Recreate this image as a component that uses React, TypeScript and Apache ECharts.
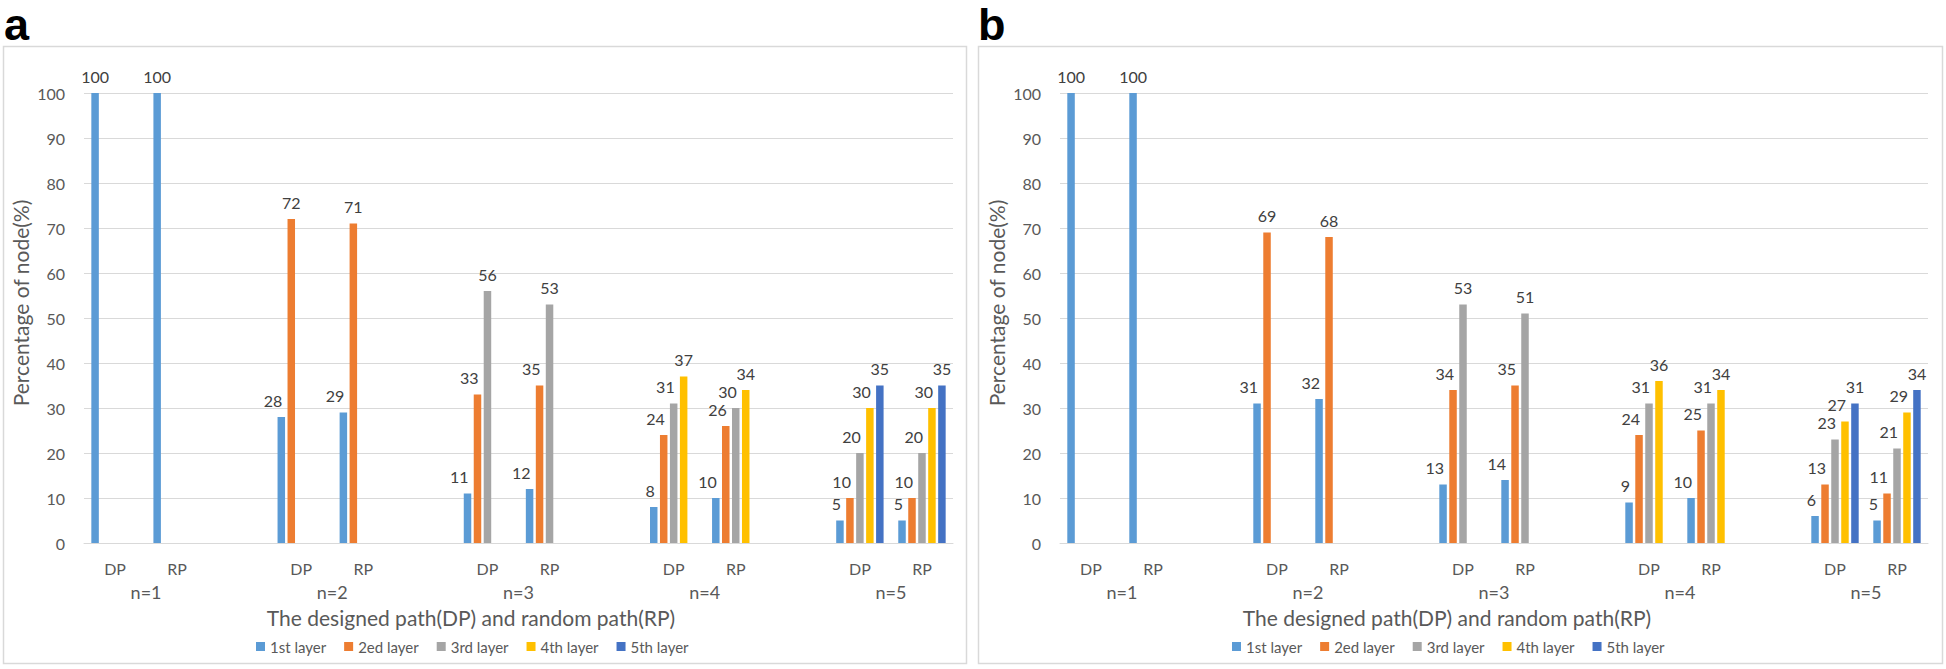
import React, { useEffect, useRef } from "react";
import * as echarts from "echarts";

const categories = ["DP", "RP", "", "DP", "RP", "", "DP", "RP", "", "DP", "RP", "", "DP", "RP"];
const groupLabels = ["n=1", "n=2", "n=3", "n=4", "n=5"];
const layerNames = ["1st layer", "2ed layer", "3rd layer", "4th layer", "5th layer"];
const layerColors = ["#5B9BD5", "#ED7D31", "#A5A5A5", "#FFC000", "#4472C4"];
const yTicks = { min: 0, max: 100, interval: 10 };

// Panel a
const aLayer1 = [100, 100, null, 28, 29, null, 11, 12, null, 8, 10, null, 5, 5];
const aLayer2 = [null, null, null, 72, 71, null, 33, 35, null, 24, 26, null, 10, 10];
const aLayer3 = [null, null, null, null, null, null, 56, 53, null, 31, 30, null, 20, 20];
const aLayer4 = [null, null, null, null, null, null, null, null, null, 37, 34, null, 30, 30];
const aLayer5 = [null, null, null, null, null, null, null, null, null, null, null, null, 35, 35];

// Panel b
const bLayer1 = [100, 100, null, 31, 32, null, 13, 14, null, 9, 10, null, 6, 5];
const bLayer2 = [null, null, null, 69, 68, null, 34, 35, null, 24, 25, null, 13, 11];
const bLayer3 = [null, null, null, null, null, null, 53, 51, null, 31, 31, null, 23, 21];
const bLayer4 = [null, null, null, null, null, null, null, null, null, 36, 34, null, 27, 29];
const bLayer5 = [null, null, null, null, null, null, null, null, null, null, null, null, 31, 34];

const xTitle = "The designed path(DP) and random path(RP)";
const yTitle = "Percentage of node(%)";

const FONT = "Lato";
const AXIS_TEXT = "#595959";
const LABEL_TEXT = "#404040";
const GRID_LINE = "#D9D9D9";

// second axis: half-category boundaries so that group labels sit between DP and RP
const nAxisData: string[] = [];
for (let i = 0; i <= categories.length * 2; i++) nAxisData.push("");
groupLabels.forEach((g, k) => {
  nAxisData[2 + 6 * k] = g;
});

function buildSeries(layers: (number | null)[][], gridIdx: number) {
  return layers.map((arr, si) => ({
    type: "bar",
    name: layerNames[si],
    xAxisIndex: gridIdx * 2,
    yAxisIndex: gridIdx,
    barWidth: 7.5,
    barGap: "33%",
    itemStyle: { color: layerColors[si] },
    label: {
      show: true,
      position: "top",
      distance: 17,
      verticalAlign: "middle",
      color: LABEL_TEXT,
      fontFamily: FONT,
      fontSize: 16,
    },
    data: arr.map((v, ci) => {
      if (v == null) return null;
      const isLast = layers.slice(si + 1).every((l) => l[ci] == null);
      return {
        value: v,
        label: isLast
          ? { position: "top", verticalAlign: "middle", distance: 17 }
          : { position: "top", align: "right", verticalAlign: "middle", distance: 17, offset: [1, 0] },
      };
    }),
  }));
}

const panels = [
  { left: 84, width: 869, layers: [aLayer1, aLayer2, aLayer3, aLayer4, aLayer5] },
  { left: 1060, width: 868, layers: [bLayer1, bLayer2, bLayer3, bLayer4, bLayer5] },
];

export default function App() {
  const ref = useRef<HTMLDivElement>(null);
  useEffect(() => {
    if (!ref.current) return;
    const chart = echarts.init(ref.current, undefined, { renderer: "svg" });
    const grids: any[] = [];
    const xAxes: any[] = [];
    const yAxes: any[] = [];
    let series: any[] = [];
    const legends: any[] = [];
    const texts: any[] = [];
    panels.forEach((p, gi) => {
      const dx = gi * 976;
      grids.push({ left: p.left, width: p.width, top: 93, height: 450, containLabel: false });
      xAxes.push({
        type: "category",
        gridIndex: gi,
        data: categories,
        axisLine: { show: true, lineStyle: { color: GRID_LINE, width: 1 } },
        axisTick: { show: false },
        axisLabel: { interval: 0, margin: 17, color: AXIS_TEXT, fontFamily: FONT, fontSize: 16 },
      });
      xAxes.push({
        type: "category",
        gridIndex: gi,
        boundaryGap: false,
        data: nAxisData,
        position: "bottom",
        axisLine: { show: false },
        axisTick: { show: false },
        splitLine: { show: false },
        axisLabel: { interval: 0, margin: 40, color: AXIS_TEXT, fontFamily: FONT, fontSize: 18 },
      });
      yAxes.push({
        type: "value",
        gridIndex: gi,
        min: yTicks.min,
        max: yTicks.max,
        interval: yTicks.interval,
        axisLine: { show: false },
        axisTick: { show: false },
        splitLine: { show: true, lineStyle: { color: GRID_LINE, width: 1 } },
        axisLabel: { margin: 19, color: AXIS_TEXT, fontFamily: FONT, fontSize: 16 },
      });
      series = series.concat(buildSeries(p.layers, gi));
      legends.push({
        left: 256 + dx,
        top: 639,
        padding: 0,
        icon: "rect",
        itemWidth: 9,
        itemHeight: 9,
        itemGap: 18,
        selectedMode: false,
        data: layerNames,
        textStyle: { color: AXIS_TEXT, fontFamily: FONT, fontSize: 15 },
      });
      texts.push(
        { type: "rect", shape: { x: 3.5 + dx - (gi ? 1 : 0), y: 46.5, width: 963 + (gi ? 1 : 0), height: 617 }, style: { fill: "none", stroke: GRID_LINE, lineWidth: 1.5 } },
        { type: "text", x: 4 + dx - (gi ? 2 : 0), y: 24, style: { text: gi ? "b" : "a", font: "bold 45px 'Liberation Sans'", lineHeight: 40, fill: "#000", verticalAlign: "middle" } },
        { type: "text", x: 471 + dx, y: 617, style: { text: xTitle, font: "21px Lato", fill: AXIS_TEXT, align: "center", verticalAlign: "middle" } },
        { type: "text", x: 20 + dx, y: 303, rotation: Math.PI / 2, style: { text: yTitle, font: "21px Lato", fill: AXIS_TEXT, align: "center", verticalAlign: "middle" } }
      );
    });

    chart.setOption({
      animation: false,
      backgroundColor: "#ffffff",
      grid: grids,
      xAxis: xAxes,
      yAxis: yAxes,
      legend: legends,
      series,
      graphic: texts,
    });
    return () => chart.dispose();
  }, []);
  return (
    <div
      ref={ref}
      style={{ position: "fixed", left: 0, top: 0, width: 1946, height: 669, background: "#fff" }}
    />
  );
}
